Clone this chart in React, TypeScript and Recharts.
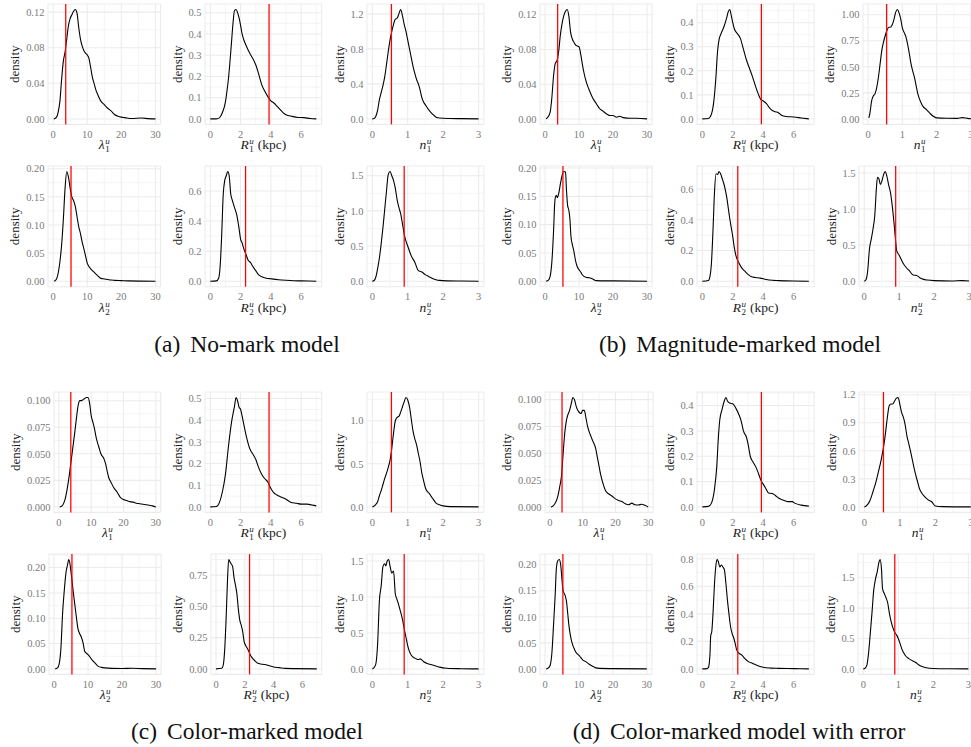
import React from "react";
import { LineChart, Line, XAxis, YAxis, CartesianGrid, ReferenceLine } from "recharts";

type Pt = [number, number];

// ---------- posterior density curves: [parameter value, density] ----------

// (a) No-mark model
const NOMARK_LAMBDA1: Pt[] = [
  [0.2, 0], [1, 0.002], [1.5, 0.008], [2, 0.02], [2.5, 0.045], [3, 0.065], [3.5, 0.075], [4, 0.09],
  [4.5, 0.105], [5, 0.113], [5.5, 0.117], [6, 0.121], [6.5, 0.123], [7, 0.119], [7.5, 0.103], [8, 0.09],
  [8.5, 0.082], [9, 0.077], [9.5, 0.074], [10, 0.072], [10.5, 0.068], [11, 0.058], [11.5, 0.047], [12, 0.04],
  [12.5, 0.033], [13, 0.028], [14, 0.02], [15, 0.016], [16, 0.012], [17, 0.009], [18, 0.005], [19, 0.003],
  [20, 0.002], [21, 0.0015], [23, 0.0005], [26, 0.001], [28, 0.0003], [30, 0],
];
const NOMARK_R1: Pt[] = [
  [0, 0], [0.4, 0], [0.6, 0.005], [0.8, 0.03], [1.0, 0.08], [1.1, 0.13], [1.2, 0.19], [1.3, 0.27], [1.4, 0.36],
  [1.5, 0.45], [1.6, 0.51], [1.7, 0.515], [1.8, 0.5], [1.9, 0.475], [2.0, 0.44], [2.1, 0.4], [2.2, 0.375],
  [2.4, 0.34], [2.6, 0.31], [2.8, 0.285], [3.0, 0.255], [3.2, 0.21], [3.4, 0.16], [3.6, 0.13], [3.8, 0.105],
  [4.0, 0.085], [4.2, 0.075], [4.4, 0.06], [4.6, 0.045], [4.8, 0.03], [5.0, 0.02], [5.4, 0.012], [5.8, 0.007],
  [6.2, 0.006], [6.6, 0.002], [7, 0],
];
const NOMARK_N1: Pt[] = [
  [0, 0], [0.05, 0.005], [0.1, 0.03], [0.15, 0.1], [0.2, 0.22], [0.25, 0.3], [0.3, 0.38], [0.35, 0.48],
  [0.4, 0.62], [0.45, 0.77], [0.5, 0.9], [0.55, 1.0], [0.6, 1.08], [0.65, 1.14], [0.7, 1.15], [0.75, 1.2],
  [0.8, 1.25], [0.85, 1.18], [0.9, 1.08], [0.95, 1.0], [1.0, 0.9], [1.05, 0.8], [1.1, 0.7], [1.15, 0.6],
  [1.2, 0.52], [1.25, 0.45], [1.3, 0.4], [1.35, 0.33], [1.4, 0.24], [1.45, 0.19], [1.5, 0.16], [1.6, 0.1],
  [1.7, 0.055], [1.8, 0.02], [1.9, 0.01], [2.2, 0.005], [2.5, 0.003], [3, 0],
];
const NOMARK_LAMBDA2: Pt[] = [
  [0.3, 0], [1, 0.004], [1.5, 0.015], [2, 0.035], [2.5, 0.065], [3, 0.11], [3.5, 0.165], [4, 0.195],
  [4.5, 0.185], [5, 0.165], [5.5, 0.15], [6, 0.143], [6.5, 0.133], [7, 0.115], [7.5, 0.097], [8, 0.085],
  [8.5, 0.07], [9, 0.058], [9.5, 0.045], [10, 0.032], [10.5, 0.026], [11, 0.022], [12, 0.016], [13, 0.01],
  [14, 0.005], [15, 0.004], [16, 0.003], [17, 0.002], [18, 0.0015], [20, 0.001], [22, 0.0005], [30, 0],
];
const NOMARK_R2: Pt[] = [
  [0, 0], [0.4, 0.002], [0.55, 0.02], [0.65, 0.1], [0.75, 0.3], [0.85, 0.57], [0.95, 0.67], [1.05, 0.7],
  [1.15, 0.73], [1.25, 0.7], [1.35, 0.58], [1.45, 0.54], [1.6, 0.49], [1.75, 0.44], [1.9, 0.35], [2.0, 0.28],
  [2.1, 0.255], [2.2, 0.22], [2.35, 0.18], [2.5, 0.14], [2.65, 0.125], [2.8, 0.1], [3.0, 0.07], [3.2, 0.042],
  [3.4, 0.03], [3.7, 0.02], [4.0, 0.016], [4.5, 0.01], [5.0, 0.006], [5.5, 0.003], [6, 0.002], [7, 0],
];
const NOMARK_N2: Pt[] = [
  [0, 0], [0.05, 0.01], [0.1, 0.06], [0.15, 0.18], [0.2, 0.33], [0.25, 0.53], [0.3, 0.76], [0.35, 1.02],
  [0.4, 1.28], [0.45, 1.52], [0.5, 1.56], [0.55, 1.5], [0.6, 1.43], [0.65, 1.32], [0.7, 1.16], [0.75, 1.05],
  [0.8, 0.96], [0.85, 0.82], [0.9, 0.67], [0.95, 0.57], [1.0, 0.5], [1.1, 0.36], [1.2, 0.27], [1.3, 0.15],
  [1.4, 0.13], [1.5, 0.09], [1.6, 0.065], [1.7, 0.04], [1.8, 0.022], [1.9, 0.012], [2.1, 0.005], [2.5, 0.002],
  [3, 0],
];

// (b) Magnitude-marked model
const MAG_LAMBDA1: Pt[] = [
  [0.3, 0], [1, 0.003], [1.5, 0.008], [2, 0.025], [2.5, 0.05], [3, 0.064], [3.5, 0.067], [4, 0.078],
  [4.5, 0.097], [5, 0.11], [5.5, 0.119], [6, 0.124], [6.5, 0.126], [7, 0.118], [7.5, 0.1], [8, 0.092],
  [8.5, 0.088], [9, 0.085], [9.5, 0.084], [10, 0.083], [10.5, 0.074], [11, 0.062], [11.5, 0.052], [12, 0.044],
  [12.5, 0.038], [13, 0.033], [14, 0.024], [15, 0.018], [16, 0.012], [17, 0.009], [18, 0.006], [19, 0.004],
  [20, 0.004], [21, 0.002], [22, 0.003], [23, 0.0015], [25, 0.0007], [27, 0.0008], [30, 0],
];
const MAG_R1: Pt[] = [
  [0, 0], [0.4, 0.002], [0.6, 0.02], [0.8, 0.1], [0.9, 0.18], [1.0, 0.28], [1.1, 0.33], [1.2, 0.35],
  [1.4, 0.38], [1.6, 0.42], [1.7, 0.445], [1.8, 0.455], [1.9, 0.43], [2.0, 0.4], [2.1, 0.375], [2.3, 0.355],
  [2.5, 0.335], [2.7, 0.29], [2.9, 0.245], [3.1, 0.21], [3.3, 0.175], [3.5, 0.135], [3.7, 0.1], [3.85, 0.08],
  [4.0, 0.075], [4.2, 0.065], [4.4, 0.047], [4.6, 0.035], [4.8, 0.03], [5.0, 0.026], [5.2, 0.015], [5.5, 0.01],
  [6.0, 0.008], [6.5, 0.004], [7, 0],
];
const MAG_N1: Pt[] = [
  [0.02, 0.01], [0.05, 0.05], [0.1, 0.17], [0.15, 0.22], [0.2, 0.24], [0.25, 0.3], [0.3, 0.4], [0.35, 0.53],
  [0.4, 0.66], [0.45, 0.74], [0.5, 0.8], [0.55, 0.85], [0.6, 0.88], [0.65, 0.88], [0.7, 0.9], [0.75, 0.95],
  [0.8, 1.02], [0.85, 1.05], [0.9, 1.02], [0.95, 0.96], [1.0, 0.87], [1.05, 0.83], [1.1, 0.79], [1.15, 0.72],
  [1.2, 0.63], [1.25, 0.53], [1.3, 0.46], [1.35, 0.4], [1.4, 0.32], [1.45, 0.24], [1.5, 0.19], [1.55, 0.15],
  [1.6, 0.12], [1.7, 0.09], [1.8, 0.055], [1.9, 0.025], [2.0, 0.01], [2.3, 0.006], [2.6, 0.005], [2.75, 0.012],
  [2.9, 0.005], [3, 0.002],
];
const MAG_LAMBDA2: Pt[] = [
  [0.3, 0], [1, 0.002], [1.5, 0.009], [2, 0.035], [2.5, 0.09], [2.8, 0.135], [3, 0.148], [3.3, 0.152],
  [3.6, 0.148], [4, 0.155], [4.5, 0.172], [5, 0.187], [5.5, 0.194], [6, 0.193], [6.3, 0.16], [6.6, 0.135],
  [7, 0.125], [7.3, 0.11], [7.6, 0.08], [8, 0.065], [8.5, 0.052], [9, 0.035], [9.5, 0.025], [10, 0.02],
  [10.5, 0.016], [11, 0.011], [12, 0.007], [13, 0.006], [14, 0.004], [15, 0.001], [20, 0.0005], [30, 0],
];
const MAG_R2: Pt[] = [
  [0, 0], [0.4, 0.005], [0.5, 0.03], [0.6, 0.12], [0.7, 0.33], [0.8, 0.58], [0.9, 0.7], [1.0, 0.695],
  [1.1, 0.715], [1.2, 0.7], [1.3, 0.67], [1.4, 0.64], [1.5, 0.6], [1.6, 0.55], [1.7, 0.48], [1.8, 0.41],
  [1.9, 0.35], [2.0, 0.29], [2.1, 0.22], [2.2, 0.17], [2.3, 0.14], [2.4, 0.12], [2.6, 0.085], [2.8, 0.065],
  [3.0, 0.045], [3.2, 0.03], [3.5, 0.024], [3.8, 0.02], [4.2, 0.011], [4.6, 0.006], [5.0, 0.004], [6, 0.001],
  [7, 0],
];
const MAG_N2: Pt[] = [
  [0, 0], [0.05, 0.02], [0.1, 0.15], [0.15, 0.45], [0.2, 0.58], [0.25, 0.72], [0.3, 0.9], [0.35, 1.3],
  [0.38, 1.44], [0.42, 1.42], [0.46, 1.34], [0.5, 1.38], [0.55, 1.47], [0.6, 1.52], [0.65, 1.45], [0.7, 1.33],
  [0.75, 1.23], [0.8, 1.05], [0.85, 0.82], [0.9, 0.55], [0.93, 0.42], [1.0, 0.36], [1.1, 0.26], [1.2, 0.19],
  [1.3, 0.14], [1.4, 0.085], [1.5, 0.08], [1.6, 0.045], [1.7, 0.025], [1.8, 0.016], [2.0, 0.008], [2.5, 0.003],
  [2.8, 0.008], [3, 0.002],
];

// (c) Color-marked model
const COLOR_LAMBDA1: Pt[] = [
  [0.3, 0], [1, 0.001], [2, 0.008], [3, 0.025], [4, 0.048], [5, 0.072], [5.5, 0.085], [6, 0.096], [6.5, 0.1],
  [7, 0.1], [7.5, 0.101], [8, 0.102], [8.5, 0.103], [9, 0.103], [9.5, 0.098], [10, 0.086], [10.5, 0.08],
  [11, 0.074], [11.5, 0.066], [12, 0.06], [12.5, 0.055], [13, 0.05], [14, 0.045], [14.5, 0.04], [15, 0.033],
  [15.5, 0.027], [16, 0.024], [17, 0.018], [18, 0.014], [19, 0.009], [20, 0.007], [21, 0.006], [22, 0.005],
  [23, 0.0045], [24, 0.0035], [25, 0.003], [26, 0.0025], [27, 0.002], [28, 0.0015], [29, 0.001], [30, 0],
];
const COLOR_R1: Pt[] = [
  [0, 0], [0.4, 0.002], [0.6, 0.02], [0.8, 0.07], [1.0, 0.15], [1.2, 0.28], [1.4, 0.39], [1.6, 0.465],
  [1.7, 0.505], [1.8, 0.49], [1.9, 0.46], [2.0, 0.45], [2.1, 0.42], [2.2, 0.385], [2.4, 0.32], [2.6, 0.27],
  [2.8, 0.245], [3.0, 0.22], [3.2, 0.18], [3.4, 0.15], [3.6, 0.13], [3.8, 0.115], [4.0, 0.085], [4.2, 0.065],
  [4.4, 0.055], [4.7, 0.045], [5.0, 0.035], [5.3, 0.022], [5.7, 0.017], [6.0, 0.013], [6.4, 0.013], [6.7, 0.009],
  [7, 0.005],
];
const COLOR_N1: Pt[] = [
  [0, 0], [0.05, 0.01], [0.1, 0.03], [0.15, 0.06], [0.2, 0.13], [0.25, 0.19], [0.3, 0.26], [0.35, 0.33],
  [0.4, 0.39], [0.45, 0.46], [0.5, 0.54], [0.55, 0.68], [0.6, 0.86], [0.65, 1.0], [0.7, 1.04], [0.75, 1.05],
  [0.8, 1.1], [0.85, 1.16], [0.9, 1.22], [0.95, 1.27], [1.0, 1.24], [1.05, 1.16], [1.1, 1.02], [1.15, 0.88],
  [1.2, 0.79], [1.25, 0.72], [1.3, 0.62], [1.35, 0.52], [1.4, 0.39], [1.45, 0.3], [1.5, 0.22], [1.55, 0.18],
  [1.6, 0.16], [1.65, 0.13], [1.7, 0.1], [1.8, 0.045], [1.9, 0.025], [2.0, 0.012], [2.2, 0.003], [3, 0],
];
const COLOR_LAMBDA2: Pt[] = [
  [0.3, 0], [1, 0.002], [1.5, 0.01], [2, 0.04], [2.5, 0.11], [3, 0.155], [3.5, 0.19], [4, 0.207],
  [4.3, 0.216], [4.6, 0.21], [5, 0.19], [5.5, 0.16], [6, 0.132], [6.5, 0.105], [7, 0.08], [7.5, 0.07],
  [8, 0.063], [8.5, 0.052], [9, 0.035], [9.5, 0.031], [10, 0.028], [10.5, 0.024], [11, 0.019], [12, 0.012],
  [13, 0.005], [14, 0.003], [15, 0.002], [17, 0.001], [20, 0.0008], [23, 0.0012], [26, 0.0005], [30, 0],
];
const COLOR_R2: Pt[] = [
  [0, 0], [0.4, 0.005], [0.5, 0.03], [0.6, 0.15], [0.7, 0.4], [0.8, 0.72], [0.88, 0.875], [0.95, 0.86],
  [1.05, 0.84], [1.15, 0.82], [1.25, 0.73], [1.35, 0.67], [1.45, 0.6], [1.55, 0.48], [1.65, 0.39], [1.75, 0.35],
  [1.85, 0.3], [1.95, 0.22], [2.05, 0.19], [2.2, 0.16], [2.35, 0.12], [2.5, 0.09], [2.7, 0.065], [2.9, 0.045],
  [3.1, 0.04], [3.4, 0.035], [3.7, 0.025], [4.0, 0.016], [4.4, 0.01], [4.8, 0.004], [5.5, 0.002], [7, 0],
];
const COLOR_N2: Pt[] = [
  [0, 0], [0.05, 0.02], [0.1, 0.07], [0.15, 0.35], [0.2, 0.95], [0.25, 1.15], [0.3, 1.42], [0.35, 1.46],
  [0.38, 1.43], [0.42, 1.5], [0.46, 1.52], [0.5, 1.43], [0.55, 1.33], [0.6, 1.36], [0.65, 1.04], [0.7, 0.96],
  [0.75, 0.88], [0.8, 0.79], [0.85, 0.69], [0.9, 0.56], [0.95, 0.44], [1.0, 0.32], [1.05, 0.24], [1.1, 0.19],
  [1.2, 0.15], [1.3, 0.13], [1.35, 0.14], [1.45, 0.1], [1.55, 0.075], [1.7, 0.055], [1.8, 0.04], [1.9, 0.025],
  [2.1, 0.01], [2.5, 0.003], [3, 0],
];

// (d) Color-marked model with error
const ERR_LAMBDA1: Pt[] = [
  [0.3, 0], [1, 0.001], [1.5, 0.003], [2, 0.006], [2.5, 0.011], [3, 0.019], [3.5, 0.028], [4, 0.048],
  [4.5, 0.068], [5, 0.08], [5.5, 0.086], [6, 0.09], [6.5, 0.096], [7, 0.102], [7.5, 0.1], [8, 0.094],
  [8.5, 0.09], [9, 0.088], [9.5, 0.087], [10, 0.09], [10.5, 0.09], [11, 0.083], [11.5, 0.075], [12, 0.07],
  [12.5, 0.066], [13, 0.062], [14, 0.054], [14.5, 0.046], [15, 0.038], [15.5, 0.03], [16, 0.024], [17, 0.015],
  [18, 0.012], [19, 0.01], [20, 0.0075], [21, 0.006], [22, 0.005], [23, 0.003], [24, 0.002], [25, 0.0035],
  [26, 0.002], [27, 0.0018], [28, 0.0025], [29, 0.0015], [30, 0],
];
const ERR_R1: Pt[] = [
  [0, 0], [0.4, 0.002], [0.6, 0.015], [0.8, 0.07], [0.95, 0.16], [1.05, 0.27], [1.15, 0.345], [1.3, 0.385],
  [1.45, 0.42], [1.55, 0.432], [1.65, 0.418], [1.8, 0.41], [2.0, 0.407], [2.2, 0.39], [2.4, 0.365], [2.55, 0.34],
  [2.7, 0.3], [2.9, 0.275], [3.0, 0.25], [3.15, 0.2], [3.3, 0.18], [3.5, 0.16], [3.7, 0.13], [3.85, 0.105],
  [4.0, 0.09], [4.2, 0.07], [4.35, 0.055], [4.6, 0.053], [4.8, 0.045], [5.0, 0.035], [5.3, 0.027], [5.6, 0.021],
  [5.9, 0.021], [6.1, 0.014], [6.5, 0.007], [7, 0.003],
];
const ERR_N1: Pt[] = [
  [0, 0], [0.05, 0.01], [0.1, 0.03], [0.15, 0.06], [0.2, 0.11], [0.25, 0.17], [0.3, 0.23], [0.35, 0.3],
  [0.4, 0.38], [0.45, 0.46], [0.5, 0.55], [0.55, 0.66], [0.6, 0.8], [0.65, 0.96], [0.7, 1.08], [0.75, 1.1],
  [0.8, 1.1], [0.85, 1.13], [0.9, 1.16], [0.95, 1.17], [1.0, 1.1], [1.05, 1.01], [1.1, 0.96], [1.15, 0.88],
  [1.2, 0.76], [1.25, 0.68], [1.3, 0.6], [1.35, 0.51], [1.4, 0.42], [1.45, 0.34], [1.5, 0.27], [1.55, 0.2],
  [1.6, 0.16], [1.7, 0.11], [1.8, 0.075], [1.9, 0.055], [2.0, 0.01], [2.2, 0.003], [3, 0],
];
const ERR_LAMBDA2: Pt[] = [
  [0.3, 0], [1, 0.002], [1.5, 0.007], [2, 0.03], [2.5, 0.085], [3, 0.145], [3.3, 0.19], [3.7, 0.207],
  [4.2, 0.21], [4.6, 0.2], [5, 0.17], [5.3, 0.15], [5.8, 0.143], [6.3, 0.13], [6.7, 0.105], [7, 0.085],
  [7.5, 0.063], [8, 0.049], [8.5, 0.04], [9, 0.033], [9.5, 0.029], [10, 0.026], [10.5, 0.022], [11, 0.018],
  [12, 0.014], [13, 0.009], [14, 0.005], [15, 0.002], [16, 0.001], [20, 0.0005], [30, 0],
];
const ERR_R2: Pt[] = [
  [0, 0], [0.3, 0.002], [0.4, 0.01], [0.5, 0.1], [0.55, 0.24], [0.62, 0.27], [0.7, 0.4], [0.8, 0.62],
  [0.9, 0.76], [0.98, 0.795], [1.05, 0.78], [1.15, 0.74], [1.25, 0.755], [1.35, 0.74], [1.45, 0.72], [1.55, 0.62],
  [1.65, 0.5], [1.75, 0.4], [1.85, 0.31], [1.95, 0.26], [2.05, 0.23], [2.15, 0.19], [2.25, 0.14], [2.4, 0.115],
  [2.6, 0.1], [2.8, 0.075], [3.0, 0.055], [3.3, 0.04], [3.6, 0.025], [4.0, 0.012], [4.5, 0.006], [5, 0.004],
  [6, 0.002], [7, 0],
];
const ERR_N2: Pt[] = [
  [0, 0], [0.05, 0.01], [0.1, 0.055], [0.15, 0.25], [0.2, 0.58], [0.25, 0.93], [0.3, 1.3], [0.35, 1.48],
  [0.4, 1.6], [0.45, 1.76], [0.48, 1.8], [0.52, 1.65], [0.55, 1.32], [0.6, 1.24], [0.65, 1.17], [0.7, 1.08],
  [0.75, 0.9], [0.8, 0.77], [0.85, 0.67], [0.9, 0.6], [0.95, 0.56], [1.0, 0.5], [1.05, 0.42], [1.1, 0.33],
  [1.15, 0.27], [1.2, 0.22], [1.3, 0.17], [1.4, 0.135], [1.5, 0.105], [1.6, 0.06], [1.7, 0.035], [1.8, 0.02],
  [2.0, 0.008], [2.5, 0.002], [3, 0],
];

// ---------- true parameter values (red reference lines) ----------
const TRUE_LAMBDA1 = 3.7;
const TRUE_LAMBDA2 = 5.25;
const TRUE_R1 = 3.88;
const TRUE_R2 = 2.33;
const TRUE_N1 = 0.54;
const TRUE_N2 = 0.9;

// ---------- tick labels ----------
const LAMBDA_TICKS = ["0", "10", "20", "30"];
const R_TICKS = ["0", "2", "4", "6"];
const N_TICKS = ["0", "1", "2", "3"];

const YT_012 = ["0.00", "0.04", "0.08", "0.12"];
const YT_020 = ["0.00", "0.05", "0.10", "0.15", "0.20"];
const YT_0100 = ["0.000", "0.025", "0.050", "0.075", "0.100"];
const YT_05 = ["0.0", "0.1", "0.2", "0.3", "0.4", "0.5"];
const YT_04 = ["0.0", "0.1", "0.2", "0.3", "0.4"];
const YT_06 = ["0.0", "0.2", "0.4", "0.6"];
const YT_08 = ["0.0", "0.2", "0.4", "0.6", "0.8"];
const YT_075 = ["0.00", "0.25", "0.50", "0.75"];
const YT_100 = ["0.00", "0.25", "0.50", "0.75", "1.00"];
const YT_12 = ["0.0", "0.4", "0.8", "1.2"];
const YT_12B = ["0.0", "0.3", "0.6", "0.9", "1.2"];
const YT_10 = ["0.0", "0.5", "1.0"];
const YT_15 = ["0.0", "0.5", "1.0", "1.5"];

const CAPTIONS = [
  { tag: "(a)", title: "No-mark model", cx: 247, y: 351.5 },
  { tag: "(b)", title: "Magnitude-marked model", cx: 740, y: 351.5 },
  { tag: "(c)", title: "Color-marked model", cx: 247, y: 739 },
  { tag: "(d)", title: "Color-marked model with error", cx: 739, y: 739 },
];

// ---------- layout ----------
const FONT = '"Liberation Serif", "DejaVu Serif", serif';
const TICK_FONT = 10.5;
const TICK_COLOR = "#7a7a7a";
const GRID = "#ebebeb";

type Param = "lambda" | "R" | "n";
const AXES: Record<Param, { domain: [number, number]; ticks: string[]; minor: number[]; symbol: string; unit?: string }> = {
  lambda: { domain: [-1.5, 31.5], ticks: LAMBDA_TICKS, minor: [5, 15, 25], symbol: "λ" },
  R: { domain: [-0.35, 7.35], ticks: R_TICKS, minor: [1, 3, 5, 7], symbol: "R", unit: "(kpc)" },
  n: { domain: [-0.15, 3.15], ticks: N_TICKS, minor: [0.5, 1.5, 2.5], symbol: "n" },
};

// vertical extent of each panel row (top, bottom)
const ROWS: [number, number][] = [
  [4.3, 124.7],
  [166.3, 287],
  [392, 512.4],
  [554, 674.4],
];

interface PanelSpec {
  data: Pt[];
  param: Param;
  comp: 1 | 2;
  yTicks: string[];
  truth: number;
  row: number;
  x: [number, number];
}

const PANELS: PanelSpec[] = [
  // (a)
  { data: NOMARK_LAMBDA1, param: "lambda", comp: 1, yTicks: YT_012, truth: TRUE_LAMBDA1, row: 0, x: [48.2, 160.8] },
  { data: NOMARK_R1, param: "R", comp: 1, yTicks: YT_05, truth: TRUE_R1, row: 0, x: [205.4, 322] },
  { data: NOMARK_N1, param: "n", comp: 1, yTicks: YT_12, truth: TRUE_N1, row: 0, x: [367.4, 484.3] },
  { data: NOMARK_LAMBDA2, param: "lambda", comp: 2, yTicks: YT_020, truth: TRUE_LAMBDA2, row: 1, x: [48.2, 160.8] },
  { data: NOMARK_R2, param: "R", comp: 2, yTicks: YT_06, truth: TRUE_R2, row: 1, x: [205.4, 322] },
  { data: NOMARK_N2, param: "n", comp: 2, yTicks: YT_15, truth: TRUE_N2, row: 1, x: [367.4, 484.3] },
  // (b)
  { data: MAG_LAMBDA1, param: "lambda", comp: 1, yTicks: YT_012, truth: TRUE_LAMBDA1, row: 0, x: [539.9, 652.1] },
  { data: MAG_R1, param: "R", comp: 1, yTicks: YT_04, truth: TRUE_R1, row: 0, x: [696.7, 813.9] },
  { data: MAG_N1, param: "n", comp: 1, yTicks: YT_100, truth: TRUE_N1, row: 0, x: [862.9, 976] },
  { data: MAG_LAMBDA2, param: "lambda", comp: 2, yTicks: YT_020, truth: TRUE_LAMBDA2, row: 1, x: [539.9, 652.1] },
  { data: MAG_R2, param: "R", comp: 2, yTicks: YT_06, truth: TRUE_R2, row: 1, x: [696.7, 813.9] },
  { data: MAG_N2, param: "n", comp: 2, yTicks: YT_15, truth: TRUE_N2, row: 1, x: [858.7, 974] },
  // (c)
  { data: COLOR_LAMBDA1, param: "lambda", comp: 1, yTicks: YT_0100, truth: TRUE_LAMBDA1, row: 2, x: [53.8, 160.5] },
  { data: COLOR_R1, param: "R", comp: 1, yTicks: YT_05, truth: TRUE_R1, row: 2, x: [205.4, 322] },
  { data: COLOR_N1, param: "n", comp: 1, yTicks: YT_10, truth: TRUE_N1, row: 2, x: [367.4, 484.3] },
  { data: COLOR_LAMBDA2, param: "lambda", comp: 2, yTicks: YT_020, truth: TRUE_LAMBDA2, row: 3, x: [48.6, 160.8] },
  { data: COLOR_R2, param: "R", comp: 2, yTicks: YT_075, truth: TRUE_R2, row: 3, x: [211, 321.8] },
  { data: COLOR_N2, param: "n", comp: 2, yTicks: YT_15, truth: TRUE_N2, row: 3, x: [367.4, 484.3] },
  // (d)
  { data: ERR_LAMBDA1, param: "lambda", comp: 1, yTicks: YT_0100, truth: TRUE_LAMBDA1, row: 2, x: [545.1, 653.2] },
  { data: ERR_R1, param: "R", comp: 1, yTicks: YT_04, truth: TRUE_R1, row: 2, x: [696.7, 813.9] },
  { data: ERR_N1, param: "n", comp: 1, yTicks: YT_12B, truth: TRUE_N1, row: 2, x: [858.7, 975.8] },
  { data: ERR_LAMBDA2, param: "lambda", comp: 2, yTicks: YT_020, truth: TRUE_LAMBDA2, row: 3, x: [539.9, 651.8] },
  { data: ERR_R2, param: "R", comp: 2, yTicks: YT_08, truth: TRUE_R2, row: 3, x: [696.7, 813.9] },
  { data: ERR_N2, param: "n", comp: 2, yTicks: YT_15, truth: TRUE_N2, row: 3, x: [858, 973.6] },
];

const PAD_L = 50;
const PAD_T = 5;
const PAD_R = 5;
const PAD_B = 40;

// approximate rendered width of a numeric tick label
const labelWidth = (s: string) =>
  s.split("").reduce((w, ch) => w + (ch === "." ? 0.278 : 0.5), 0) * 10.7;

function DensityPanel({ spec }: { spec: PanelSpec }) {
  const axis = AXES[spec.param];
  const [top, bottom] = ROWS[spec.row];
  const [left, right] = spec.x;
  const plotW = right - left;
  const plotH = bottom - top;
  const w = plotW + PAD_L + PAD_R;
  const h = plotH + PAD_T + PAD_B;

  const data = spec.data.map(([x, y]) => ({ x, y }));
  const yMax = Math.max(...spec.data.map((p) => p[1]));
  const yDomain: [number, number] = [-0.05 * yMax, 1.05 * yMax];
  const yTicks = spec.yTicks.map(Number);
  const decimals = (spec.yTicks[0].split(".")[1] || "").length;
  const step = yTicks[1] - yTicks[0];
  const yMinor = [yTicks[0] - step / 2, ...yTicks.map((t) => t + step / 2)].filter(
    (v) => v > yDomain[0] && v < yDomain[1]
  );
  const xTicks = axis.ticks.map(Number);

  const maxLabel = Math.max(...spec.yTicks.map(labelWidth));
  const yTitleX = PAD_L - 3 - maxLabel - 11 + 4.3;
  const yTitleY = PAD_T + plotH / 2;
  const xTitleX = PAD_L + plotW / 2;
  const xTitleY = PAD_T + plotH + 25;

  return (
    <div style={{ position: "absolute", left: left - PAD_L, top: top - PAD_T, width: w, height: h }}>
      <LineChart width={w} height={h} data={data} margin={{ top: PAD_T, right: PAD_R, bottom: 0, left: 0 }}>
        <CartesianGrid
          stroke={GRID}
          strokeWidth={0.55}
          horizontalValues={yMinor}
          verticalValues={axis.minor}
        />
        <CartesianGrid stroke={GRID} strokeWidth={1.05} />
        <XAxis
          type="number"
          dataKey="x"
          domain={axis.domain}
          ticks={xTicks}
          interval={0}
          allowDataOverflow
          height={PAD_B}
          tickLine={false}
          axisLine={false}
          tickSize={4}
          tickMargin={2}
          tick={{ fill: TICK_COLOR, fontSize: TICK_FONT, fontFamily: FONT }}
        />
        <YAxis
          type="number"
          domain={yDomain}
          ticks={yTicks}
          interval={0}
          allowDataOverflow
          width={PAD_L}
          tickLine={false}
          axisLine={false}
          tickSize={1}
          tickMargin={2.5}
          tickFormatter={(v: number) => v.toFixed(decimals)}
          tick={{ fill: TICK_COLOR, fontSize: TICK_FONT, fontFamily: FONT }}
        />
        <Line
          dataKey="y"
          type="monotone"
          stroke="#000000"
          strokeWidth={1.1}
          dot={false}
          activeDot={false}
          isAnimationActive={false}
        />
        <ReferenceLine x={spec.truth} stroke="#ff0000" strokeWidth={1.25} />
      </LineChart>
      <svg
        width={w}
        height={h}
        style={{ position: "absolute", left: 0, top: 0, pointerEvents: "none", overflow: "visible" }}
      >
        <text
          x={yTitleX}
          y={yTitleY}
          transform={`rotate(-90 ${yTitleX} ${yTitleY})`}
          textAnchor="middle"
          fontSize={13}
          fill="#1a1a1a"
          fontFamily={FONT}
        >
          density
        </text>
        <text x={xTitleX} y={xTitleY} textAnchor="middle" fontSize={13.5} fill="#1a1a1a" fontFamily={FONT}>
          <tspan fontStyle="italic">{axis.symbol}</tspan>
          <tspan fontSize={9} fontStyle="italic" dx={0.5} dy={-5}>
            u
          </tspan>
          <tspan fontSize={9} dx={-4.5} dy={8}>
            {spec.comp}
          </tspan>
          {axis.unit ? (
            <tspan dx={4} dy={-3}>
              {axis.unit}
            </tspan>
          ) : null}
        </text>
      </svg>
    </div>
  );
}

export default function App() {
  return (
    <div
      style={{
        position: "absolute",
        left: 0,
        top: 0,
        width: 971,
        height: 747,
        overflow: "hidden",
        background: "#ffffff",
        fontFamily: FONT,
      }}
    >
      {PANELS.map((p, i) => (
        <DensityPanel key={i} spec={p} />
      ))}
      <svg width={971} height={747} style={{ position: "absolute", left: 0, top: 0, pointerEvents: "none" }}>
        {CAPTIONS.map((c) => (
          <text key={c.tag} x={c.cx} y={c.y} textAnchor="middle" fontSize={23.5} fill="#111" fontFamily={FONT}>
            <tspan>{c.tag}</tspan>
            <tspan dx={4}>{" " + c.title}</tspan>
          </text>
        ))}
      </svg>
    </div>
  );
}
